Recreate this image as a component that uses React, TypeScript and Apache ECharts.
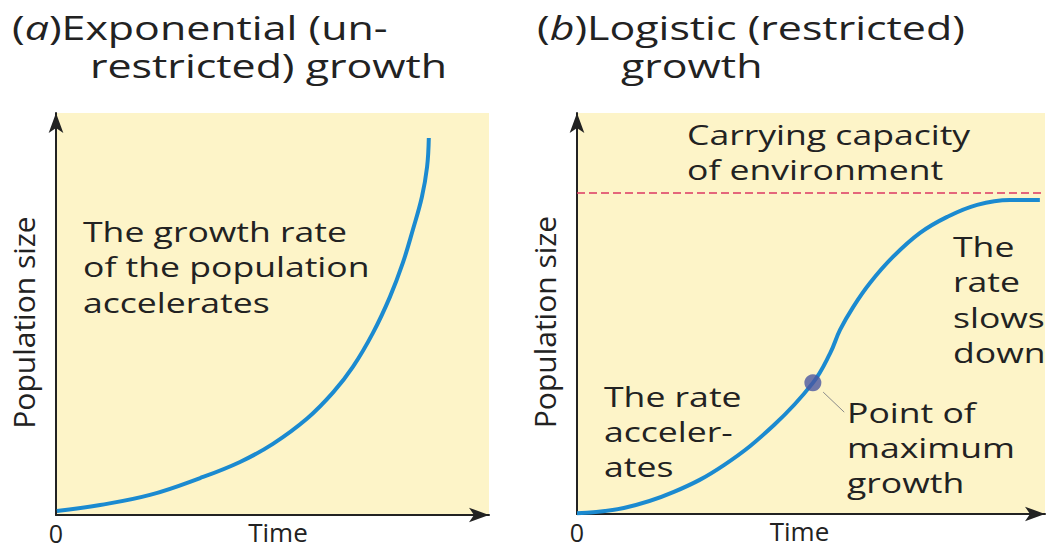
import React, { useEffect, useRef } from "react";
import * as echarts from "echarts";

// Time (0–100) and population size (0–100)
const expTime = [0.2, 10.2, 21.7, 33.3, 42.5, 50.1, 58.0, 64.0, 68.6, 73.2, 77.1, 80.1, 82.4, 84.5, 85.7, 86.1];
const expPop = [1.0, 2.5, 5.0, 9.2, 13.2, 17.7, 24.0, 30.5, 36.9, 45.3, 54.2, 62.7, 70.9, 79.1, 86.6, 93.8];

const logTime = [0, 10.0, 20.7, 31.4, 42.1, 50.4, 54.1, 56.2, 59.0, 62.6, 67.5, 73.3, 79.1, 85.5, 92.5, 98.9];
const logPop = [0.2, 1.5, 5.5, 12.2, 22.2, 32.7, 40.1, 45.9, 51.6, 57.6, 64.1, 70.1, 74.1, 77.1, 78.3, 78.3];

const carryingCapacity = [80.0];
const maxGrowthPoint = [50.4, 32.7];
const leaderLine = [
  [52.6, 30.4],
  [57.1, 25.4],
];

const xTickLabels = ["0"];
const axisNames = { x: "Time", y: "Population size" };

const FONT = "'Open Sans', 'Noto Sans', sans-serif";
const TEXT = "#222222";
const BEIGE = "#fdf4c8";
const BLUE = "#1b8ad0";

const zip = (xs: number[], ys: number[]) => xs.map((x, i) => [x, ys[i]]);

function axisPair(gridIndex: number, timePad: number[]) {
  const x = {
    type: "value",
    gridIndex,
    min: 0,
    max: 100,
    interval: 20,
    name: axisNames.x,
    nameLocation: "middle",
    nameGap: 6,
    nameMoveOverlap: false,
    nameTextStyle: {
      fontFamily: FONT,
      fontSize: 26,
      lineHeight: 22,
      color: TEXT,
      padding: timePad,
    },
    axisLine: {
      show: true,
      symbol: ["none", "arrow"],
      symbolSize: [11, 20],
      lineStyle: { color: TEXT, width: 2 },
    },
    axisTick: { show: false },
    splitLine: { show: false },
    axisLabel: {
      show: true,
      margin: 7,
      fontFamily: FONT,
      fontSize: 25,
      lineHeight: 21,
      color: TEXT,
      showMaxLabel: false,
      formatter: (v: number) => (v === 0 ? xTickLabels[0] : ""),
    },
  };
  const y = {
    type: "value",
    gridIndex,
    min: 0,
    max: 100,
    interval: 20,
    name: axisNames.y,
    nameLocation: "middle",
    nameGap: 18,
    nameMoveOverlap: false,
    nameTextStyle: {
      fontFamily: FONT,
      fontSize: 30,
      color: TEXT,
      padding: [0, 17, 0, 0],
    },
    axisLine: {
      show: true,
      symbol: ["none", "arrow"],
      symbolSize: [11, 20],
      lineStyle: { color: TEXT, width: 2 },
    },
    axisTick: { show: false },
    splitLine: { show: false },
    axisLabel: { show: false },
  };
  return { x, y };
}

function textBlock(
  lines: string[],
  x: number,
  firstCenter: number,
  lineHeight: number,
  fontSize: number,
  scaleX: number,
  extra: any = {}
) {
  return {
    type: "text",
    x,
    y: firstCenter - lineHeight / 2,
    scaleX,
    z: 100,
    style: {
      text: lines.join("\n"),
      fontFamily: FONT,
      fontSize,
      lineHeight,
      fill: TEXT,
      align: "left",
      verticalAlign: "top",
      ...extra,
    },
  };
}

export default function App() {
  const ref = useRef<HTMLDivElement>(null);

  useEffect(() => {
    if (!ref.current) return;
    const chart = echarts.init(ref.current, undefined, { renderer: "svg" });

    const a = axisPair(0, [0, 0, 0, 11]);
    const b = axisPair(1, [0, 23, 0, 0]);

    const italicRich = {
      i: { fontFamily: FONT, fontSize: 33, fontStyle: "italic", fill: TEXT, lineHeight: 38 },
    };

    chart.setOption({
      animation: false,
      backgroundColor: "#ffffff",
      grid: [
        {
          left: 56,
          top: 113,
          right: 1048 - 489,
          bottom: 550 - 515,
          outerBoundsMode: "none",
          containLabel: false,
          show: true,
          backgroundColor: BEIGE,
          borderWidth: 0,
        },
        {
          left: 577,
          top: 113,
          right: 1048 - 1045,
          bottom: 550 - 514,
          outerBoundsMode: "none",
          containLabel: false,
          show: true,
          backgroundColor: BEIGE,
          borderWidth: 0,
        },
      ],
      xAxis: [a.x, b.x],
      yAxis: [a.y, b.y],
      series: [
        {
          name: "Exponential growth",
          type: "line",
          xAxisIndex: 0,
          yAxisIndex: 0,
          data: zip(expTime, expPop),
          smooth: 0.4,
          showSymbol: false,
          lineStyle: { color: BLUE, width: 4 },
          z: 5,
        },
        {
          name: "Logistic growth",
          type: "line",
          xAxisIndex: 1,
          yAxisIndex: 1,
          data: zip(logTime, logPop),
          smooth: 0.4,
          showSymbol: false,
          lineStyle: { color: BLUE, width: 4 },
          z: 5,
          markLine: {
            silent: true,
            symbol: ["none", "none"],
            label: { show: false },
            lineStyle: { color: "#dc3762", width: 1.5, type: [8, 4] },
            data: [{ yAxis: carryingCapacity[0] }],
          },
        },
        {
          name: "Leader",
          type: "line",
          xAxisIndex: 1,
          yAxisIndex: 1,
          data: leaderLine,
          showSymbol: false,
          lineStyle: { color: "#8a8a8a", width: 1 },
          z: 4,
        },
        {
          name: "Point of maximum growth",
          type: "scatter",
          xAxisIndex: 1,
          yAxisIndex: 1,
          data: [maxGrowthPoint],
          symbolSize: 17,
          itemStyle: { color: "#4a56a0" },
          z: 6,
        },
      ],
      graphic: [
        {
          type: "text",
          x: 12,
          y: 27 - 19,
          scaleX: 1.3,
          style: {
            text: "({i|a})Exponential (un-",
            fontFamily: FONT,
            fontSize: 33,
            lineHeight: 38,
            fill: TEXT,
            verticalAlign: "top",
            rich: italicRich,
          },
        },
        textBlock(["restricted) growth"], 90, 65, 38, 33, 1.3),
        {
          type: "text",
          x: 537,
          y: 27 - 19,
          scaleX: 1.3,
          style: {
            text: "({i|b})Logistic (restricted)",
            fontFamily: FONT,
            fontSize: 33,
            lineHeight: 38,
            fill: TEXT,
            verticalAlign: "top",
            rich: italicRich,
          },
        },
        textBlock(["growth"], 621, 65, 38, 33, 1.3),
        textBlock(["The growth rate", "of the population", "accelerates"], 83, 231, 35.5, 28, 1.27),
        textBlock(["Carrying capacity", "of environment"], 687, 134, 35, 28, 1.27),
        textBlock(["The", "rate", "slows", "down"], 953, 246, 35.3, 28, 1.27),
        textBlock(["The rate", "acceler-", "ates"], 604, 396, 35, 28, 1.27),
        textBlock(["Point of", "maximum", "growth"], 847, 412, 35, 28, 1.27),
      ],
    });

    return () => chart.dispose();
  }, []);

  return (
    <div
      ref={ref}
      style={{ position: "absolute", left: 0, top: 0, width: 1048, height: 550 }}
    />
  );
}
